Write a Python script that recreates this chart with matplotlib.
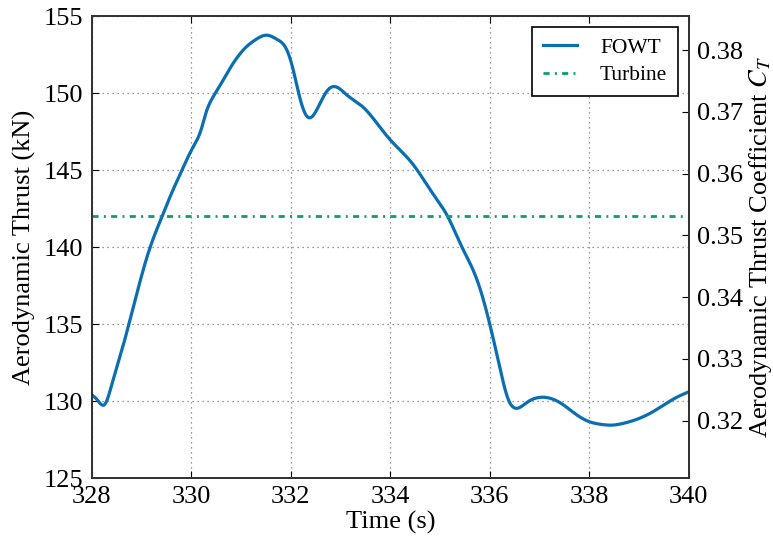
import numpy as np
import matplotlib
matplotlib.use("Agg")
import matplotlib.pyplot as plt

plt.rcParams['font.family'] = ['Liberation Serif', 'DejaVu Serif']
plt.rcParams['mathtext.fontset'] = 'stix'

# FOWT aerodynamic thrust time history (s, kN)
time_s = [328.0, 328.1, 328.26, 328.4, 328.6, 328.75, 328.96, 329.17, 329.41, 329.6,
          329.81, 330.0, 330.21, 330.27, 330.5, 330.83, 331.1, 331.3, 331.52, 331.72,
          331.92, 332.04, 332.18, 332.3, 332.38, 332.48, 332.58, 332.74, 332.92, 333.12,
          333.45, 333.79, 333.99, 334.45, 334.85, 335.16, 335.44, 335.74, 335.96, 336.2,
          336.36, 336.5, 336.74, 337.07, 337.41, 337.75, 338.0, 338.21, 338.47, 338.68,
          339.22, 339.76, 340.0]
thrust_kN = [130.4, 130.1, 129.8, 131.1, 133.3, 135.1, 137.7, 140.0, 142.0, 143.5,
             145.0, 146.3, 147.8, 148.5, 150.1, 151.9, 153.0, 153.5, 153.77, 153.5,
             152.8, 151.6, 149.7, 148.6, 148.4, 148.7, 149.3, 150.2, 150.4, 149.9,
             149.1, 147.8, 147.0, 145.4, 143.5, 141.95, 140.0, 137.9, 135.5, 132.2,
             130.2, 129.55, 129.9, 130.25, 129.9, 129.1, 128.66, 128.5, 128.44, 128.55,
             129.2, 130.25, 130.6]

# Fixed-bottom turbine reference thrust (kN)
turbine_kN = 142.0

x_ticks = [328, 330, 332, 334, 336, 338, 340]
y_ticks = [125, 130, 135, 140, 145, 150, 155]
ct_ticks = [0.32, 0.33, 0.34, 0.35, 0.36, 0.37, 0.38]
ct_limits = (0.3107, 0.3855)

blue = '#0A6EB2'
green = '#0B9E73'


def natural_spline(x, y, xq):
    """Natural cubic spline through (x, y), evaluated at xq."""
    x = np.asarray(x, float)
    y = np.asarray(y, float)
    n = len(x)
    h = np.diff(x)
    A = np.zeros((n, n))
    r = np.zeros(n)
    A[0, 0] = A[-1, -1] = 1.0
    for i in range(1, n - 1):
        A[i, i - 1] = h[i - 1]
        A[i, i] = 2 * (h[i - 1] + h[i])
        A[i, i + 1] = h[i]
        r[i] = 3 * ((y[i + 1] - y[i]) / h[i] - (y[i] - y[i - 1]) / h[i - 1])
    c = np.linalg.solve(A, r)
    b = (y[1:] - y[:-1]) / h - h * (2 * c[:-1] + c[1:]) / 3
    d = (c[1:] - c[:-1]) / (3 * h)
    idx = np.clip(np.searchsorted(x, xq) - 1, 0, n - 2)
    dx = xq - x[idx]
    return y[idx] + b[idx] * dx + c[idx] * dx**2 + d[idx] * dx**3


fig = plt.figure(figsize=(7.73, 5.42), dpi=100)
ax = fig.add_axes([0.119, 0.118, 0.772, 0.852])

t_fine = np.linspace(time_s[0], time_s[-1], 1200)
y_fine = natural_spline(time_s, thrust_kN, t_fine)

ax.plot(t_fine, y_fine, color=blue, lw=2.3, label='FOWT')
ax.plot([x_ticks[0], x_ticks[-1]], [turbine_kN, turbine_kN], color=green, lw=2.0,
        ls=(0, (2.2, 1.9, 0.7, 1.9)), label='Turbine')

ax.set_xlim(x_ticks[0], x_ticks[-1])
ax.set_ylim(y_ticks[0], y_ticks[-1])
ax.set_xticks(x_ticks)
ax.set_yticks(y_ticks)
ax.grid(True, ls=(0, (1, 3)), color='#777777', lw=0.9)
ax.tick_params(direction='in', length=5, labelsize=19, top=True, right=False, pad=6)
ax.set_xlabel('Time (s)', fontsize=19, labelpad=2)
ax.set_ylabel('Aerodynamic Thrust (kN)', fontsize=19, labelpad=6)
for s in ax.spines.values():
    s.set_linewidth(1.3)
    s.set_color('#333333')

ax2 = ax.twinx()
ax2.set_ylim(*ct_limits)
ax2.set_yticks(ct_ticks)
ax2.set_yticklabels([f'{v:.2f}' for v in ct_ticks])
ax2.tick_params(direction='in', length=5, labelsize=19, pad=6)
ax2.set_ylabel('Aerodynamic Thrust Coefficient $C_T$', fontsize=19, labelpad=3)
for s in ax2.spines.values():
    s.set_linewidth(1.3)
    s.set_color('#333333')

leg = ax.legend(loc='upper right', fontsize=15.5, frameon=True, fancybox=False,
                edgecolor='black', framealpha=1, borderpad=0.5, handlelength=1.6,
                handletextpad=1.05, labelspacing=0.35, borderaxespad=0.5)
leg.get_frame().set_linewidth(1.2)

fig.savefig('out.png', dpi=100)
